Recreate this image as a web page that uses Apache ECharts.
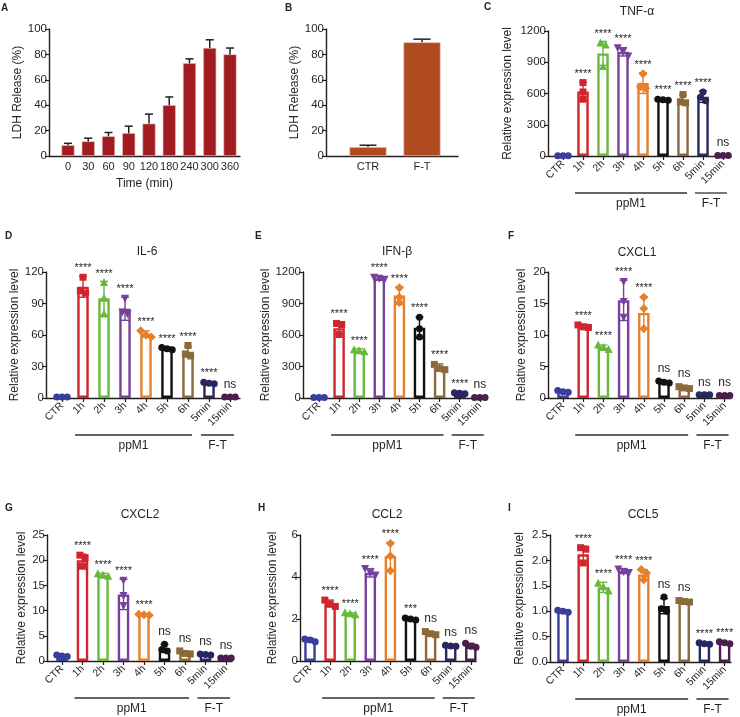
<!DOCTYPE html>
<html><head><meta charset="utf-8">
<script src="https://cdn.jsdelivr.net/npm/echarts@6/dist/echarts.min.js"></script>
<style>html,body{margin:0;padding:0;background:#fff}#c{width:740px;height:717px}</style>
</head><body><div id="c"></div>
<script>
// ---------------- DATA ----------------
// Panel A: LDH release over time
const ldhTimeCats = ['0','30','60','90','120','180','240','300','360'];
const ldhTimeMean = [8.5, 11.5, 15.5, 18, 25.5, 40, 73, 85, 80];
const ldhTimeErr  = [1.5, 2.5, 3, 5.5, 7.5, 6.5, 3.5, 6.5, 5];
// Panel B: LDH release CTR vs F-T
const ldhTreatCats = ['CTR','F-T'];
const ldhTreatMean = [7, 89.5];
const ldhTreatErr  = [1.5, 2.5];

// Gene panels (C–I)
const geneCats = ['CTR','1h','2h','3h','4h','5h','6h','5min','15min'];
const groupNames = ['ppM1','F-T'];
const groupFrom = [1, 7];
const groupTo = [6, 8];
const geneNames = ['TNF-α','IL-6','IFN-β','CXCL1','CXCL2','CCL2','CCL5'];
const geneYMax  = [1200, 120, 1200, 20, 25, 6, 2.5];
const geneYStep = [300, 30, 300, 5, 5, 2, 0.5];

const tnfMean = [3, 620, 985, 1000, 700, 540, 540, 570, 4];
const tnfErr  = [2, 90, 115, 40, 100, 8, 45, 55, 2];
const tnfPts  = [[3,3,3],[705,615,545],[1085,1065,860],[1040,1005,960],[790,665,650],[545,540,535],[590,520,510],[615,565,530],[4,4,4]];
const tnfSig  = ['','****','****','****','****','****','****','****','ns'];

const il6Mean = [1, 106, 95, 85, 61, 47, 44, 14, 1];
const il6Err  = [0.5, 10, 16, 11, 3, 1.5, 5, 1, 0.5];
const il6Pts  = [[1,1,1],[115,102,100],[110,95,80],[95,82,80],[64,60,58],[48,47,46],[50,42,40],[15,14,13.5],[1,1,1]];
const il6Sig  = ['','****','****','****','****','****','****','****','ns'];

const ifnMean = [5, 665, 450, 1140, 975, 670, 290, 45, 5];
const ifnErr  = [2, 60, 20, 20, 85, 100, 35, 5, 2];
const ifnPts  = [[5,5,5],[710,700,605],[460,450,440],[1150,1140,1130],[1050,960,910],[770,660,580],[320,280,270],[50,45,40],[5,5,5]];
const ifnSig  = ['','****','****','****','****','****','****','****','ns'];

const cxcl1Mean = [1.0, 11.4, 8.0, 15.5, 13.5, 2.5, 1.6, 0.5, 0.4];
const cxcl1Err  = [0.15, 0.3, 0.4, 3.2, 2.6, 0.2, 0.2, 0.05, 0.05];
const cxcl1Pts  = [[1.2,1.0,0.9],[11.6,11.3,11.2],[8.4,8.0,7.7],[18.5,15.3,12.8],[16.0,14.2,11.0],[2.7,2.5,2.4],[1.8,1.6,1.5],[0.5,0.5,0.5],[0.4,0.4,0.4]];
const cxcl1Sig  = ['','****','****','****','****','ns','ns','ns','ns'];

const cxcl2Mean = [1.0, 20.0, 17.0, 13.2, 9.2, 2.5, 1.6, 1.3, 0.6];
const cxcl2Err  = [0.15, 1.2, 0.4, 3.0, 0.2, 0.8, 0.4, 0.1, 0.05];
const cxcl2Pts  = [[1.2,1.0,0.9],[21.0,20.5,18.8],[17.3,17.0,16.8],[16.0,13.0,11.0],[9.3,9.2,9.1],[3.3,2.3,2.0],[2.0,1.5,1.4],[1.4,1.3,1.2],[0.6,0.6,0.6]];
const cxcl2Sig  = ['','****','****','****','****','ns','ns','ns','ns'];

const ccl2Mean = [1.0, 2.75, 2.25, 4.2, 5.0, 2.0, 1.3, 0.72, 0.72];
const ccl2Err  = [0.08, 0.15, 0.05, 0.2, 0.65, 0.05, 0.08, 0.04, 0.12];
const ccl2Pts  = [[1.05,1.0,0.92],[2.9,2.7,2.6],[2.3,2.25,2.2],[4.4,4.2,4.1],[5.6,5.0,4.3],[2.05,2.0,1.95],[1.4,1.3,1.25],[0.75,0.72,0.7],[0.85,0.7,0.65]];
const ccl2Sig  = ['','****','****','****','****','***','ns','ns','ns'];

const ccl5Mean = [1.0, 2.12, 1.47, 1.79, 1.72, 1.1, 1.19, 0.36, 0.38];
const ccl5Err  = [0.02, 0.16, 0.1, 0.05, 0.1, 0.15, 0.02, 0.02, 0.02];
const ccl5Pts  = [[1.02,1.0,0.98],[2.25,2.22,1.95],[1.55,1.48,1.4],[1.83,1.78,1.76],[1.82,1.75,1.62],[1.28,1.05,1.0],[1.21,1.19,1.18],[0.38,0.36,0.35],[0.4,0.38,0.36]];
const ccl5Sig  = ['','****','****','****','****','ns','ns','****','****'];

// ---------------- STYLE / LAYOUT ----------------
const FONT = '"Liberation Sans", Arial, Helvetica, sans-serif';
const INK = '#231f20';
const catColors = ['#3a3d9c','#d1242c','#67b93b','#77409b','#e5802d','#111111','#8b6a3a','#28285e','#4b1e4b'];
const catSymbols = ['circle','square','triangle','triangleDown','diamond','circle','square','circle','circle'];

const geneMean = [tnfMean, il6Mean, ifnMean, cxcl1Mean, cxcl2Mean, ccl2Mean, ccl5Mean];
const geneErr  = [tnfErr, il6Err, ifnErr, cxcl1Err, cxcl2Err, ccl2Err, ccl5Err];
const genePts  = [tnfPts, il6Pts, ifnPts, cxcl1Pts, cxcl2Pts, ccl2Pts, ccl5Pts];
const geneSig  = [tnfSig, il6Sig, ifnSig, cxcl1Sig, cxcl2Sig, ccl2Sig, ccl5Sig];

// layout: axis x, axis end x, top, bottom, first category x, category step (px)
const layA = {axisX:49, endX:240, top:29, bottom:156, firstX:68, step:20.25, nameGap:20};
const layB = {axisX:326, endX:458, top:29, bottom:156, firstX:368, step:54, nameGap:21};
const geneLay = [
  {axisX:548, endX:731, top:31,  bottom:156, firstX:563, step:20,   nameGap:34, tx:637, ty:12,  letter:'C', lx:484, ly:8},
  {axisX:46,  endX:240, top:272, bottom:398, firstX:62,  step:21,   nameGap:24, tx:147, ty:252, letter:'D', lx:5,   ly:237},
  {axisX:303, endX:487, top:272, bottom:398, firstX:319, step:20.1, nameGap:30, tx:397, ty:252, letter:'E', lx:255, ly:237},
  {axisX:548, endX:731, top:272, bottom:398, firstX:563, step:20.2, nameGap:20, tx:637, ty:253, letter:'F', lx:508, ly:237},
  {axisX:47,  endX:232, top:535, bottom:661, firstX:62,  step:20.5, nameGap:19, tx:140, ty:515, letter:'G', lx:5,   ly:509},
  {axisX:300, endX:476, top:535, bottom:661, firstX:310, step:20.1, nameGap:21, tx:387, ty:515, letter:'H', lx:258, ly:509},
  {axisX:550, endX:731, top:535, bottom:662, firstX:563, step:20.2, nameGap:24, tx:643, ty:515, letter:'I', lx:508, ly:509}
];

// ---------------- BUILD ----------------
const option = {animation:false, backgroundColor:'#fff', grid:[], xAxis:[], yAxis:[], series:[], graphic:[]};

function symbolEl(kind, cx, cy, s, color){
  const h = s/2;
  if (kind === 'circle') return {type:'circle', shape:{cx, cy, r:h}, style:{fill:color}};
  if (kind === 'square') return {type:'rect', shape:{x:cx-h, y:cy-h, width:s, height:s}, style:{fill:color}};
  if (kind === 'triangle') return {type:'polygon', shape:{points:[[cx,cy-h-1],[cx+h+0.5,cy+h],[cx-h-0.5,cy+h]]}, style:{fill:color}};
  if (kind === 'triangleDown') return {type:'polygon', shape:{points:[[cx,cy+h+1],[cx+h+0.5,cy-h],[cx-h-0.5,cy-h]]}, style:{fill:color}};
  return {type:'polygon', shape:{points:[[cx,cy-h-1],[cx+h+1,cy],[cx,cy+h+1],[cx-h-1,cy]]}, style:{fill:color}};
}

function addPanel(k, lay, cats, gene){
  const idx = cats.map((c,i)=>i);
  option.grid.push({left:lay.axisX, top:lay.top, width:lay.endX-lay.axisX, height:lay.bottom-lay.top});
  option.xAxis.push({
    type:'value', gridIndex:k,
    min: -(lay.firstX-lay.axisX)/lay.step, max: (lay.endX-lay.firstX)/lay.step,
    splitLine:{show:false},
    axisLine:{show:true, onZero:false, lineStyle:{color:INK, width:1.4}},
    axisTick:{show:gene, customValues:idx, length:4, lineStyle:{color:INK, width:1.2}},
    axisLabel:{customValues:idx, formatter:v=>cats[Math.round(v)], rotate:gene?45:0,
      fontFamily:FONT, fontSize:gene?10.5:11, color:INK, margin:gene?6:5}
  });
}

function yAxisBase(k){
  return {type:'value', gridIndex:k, min:0, nameLocation:'middle',
    nameTextStyle:{fontFamily:FONT, fontSize:12, color:INK},
    splitLine:{show:false},
    axisLine:{show:true, onZero:false, lineStyle:{color:INK, width:1.4}},
    axisTick:{show:true, length:4, lineStyle:{color:INK, width:1.2}}};
}

// Panel A & B
[[layA, ldhTimeCats, ldhTimeMean, ldhTimeErr, '#a11c20', 13, 8, 'Time (min)'],
 [layB, ldhTreatCats, ldhTreatMean, ldhTreatErr, '#b04a1f', 37, 17, '']].forEach((p, k)=>{
  const [lay, cats, mean, err, color, bw, capW, xName] = p;
  addPanel(k, lay, cats, false);
  if (xName){ Object.assign(option.xAxis[k], {name:xName, nameLocation:'middle', nameGap:22,
      nameTextStyle:{fontFamily:FONT, fontSize:12, color:INK}}); }
  option.yAxis.push(Object.assign(yAxisBase(k), {max:100, interval:20,
    name:'LDH Release (%)', nameGap:lay.nameGap,
    axisLabel:{fontFamily:FONT, fontSize:11.5, color:INK, margin:2}}));
  option.series.push({type:'bar', xAxisIndex:k, yAxisIndex:k, barWidth:bw, z:2,
    itemStyle:{color:color, borderColor:'#e8b9b0', borderWidth:0.6},
    data: mean.map((m,i)=>[i,m])});
  option.series.push({type:'custom', xAxisIndex:k, yAxisIndex:k, z:3,
    encode:{x:0, y:1},
    data: mean.map((m,i)=>[i,m]),
    renderItem:(params, api)=>{
      const i = params.dataIndex;
      const base = api.coord([i, mean[i]]);
      const top = api.coord([i, mean[i]+err[i]]);
      return {type:'group', children:[
        {type:'line', shape:{x1:base[0], y1:base[1], x2:base[0], y2:top[1]}, style:{stroke:INK, lineWidth:1.5}},
        {type:'line', shape:{x1:base[0]-capW/2, y1:top[1], x2:base[0]+capW/2, y2:top[1]}, style:{stroke:INK, lineWidth:1.5}}
      ]};
    }});
});
option.graphic.push({type:'text', x:1, y:3, style:{text:'A', font:'bold 10px '+FONT, fill:INK}});
option.graphic.push({type:'text', x:285, y:3, style:{text:'B', font:'bold 10px '+FONT, fill:INK}});

// Gene panels
geneLay.forEach((lay, g)=>{
  const k = g + 2;
  const mean = geneMean[g], err = geneErr[g], pts = genePts[g], sig = geneSig[g];
  addPanel(k, lay, geneCats, true);
  const step = geneYStep[g];
  option.yAxis.push(Object.assign(yAxisBase(k), {max:geneYMax[g], interval:step,
    name:'Relative expression level', nameGap:lay.nameGap,
    axisLabel:{fontFamily:FONT, fontSize:11.5, color:INK, margin:2,
      formatter: v => step < 1 ? v.toFixed(1) : String(v)}}));
  // hollow bars
  option.series.push({type:'bar', xAxisIndex:k, yAxisIndex:k, barWidth:11.5, z:2,
    data: mean.map((m,i)=>({value:[i,m], itemStyle:{color:'#ffffff', borderColor:catColors[i], borderWidth:2.4}}))});
  // error bars, points, significance
  option.series.push({type:'custom', xAxisIndex:k, yAxisIndex:k, z:4,
    encode:{x:0, y:1},
    data: mean.map((m,i)=>[i,m]),
    renderItem:(params, api)=>{
      const i = params.dataIndex;
      const color = catColors[i];
      const cx = api.coord([i, mean[i]])[0];
      const yT = api.coord([i, mean[i]+err[i]])[1];
      const yB = api.coord([i, Math.max(0, mean[i]-err[i])])[1];
      const ch = [];
      const cap = 4;
      ch.push({type:'line', shape:{x1:cx, y1:yT, x2:cx, y2:yB}, style:{stroke:color, lineWidth:1.4}});
      ch.push({type:'line', shape:{x1:cx-cap, y1:yT, x2:cx+cap, y2:yT}, style:{stroke:color, lineWidth:1.4}});
      ch.push({type:'line', shape:{x1:cx-cap, y1:yB, x2:cx+cap, y2:yB}, style:{stroke:color, lineWidth:1.4}});
      // points with simple swarm spreading
      const s = 7;
      const ys = pts[i].map(v=>api.coord([i, v])[1]);
      const order = ys.map((y,j)=>j).sort((a,b)=>ys[a]-ys[b]);
      const offs = new Array(ys.length).fill(0);
      let cluster = [order[0]];
      const flush = ()=>{ const m = cluster.length; cluster.forEach((j,q)=>{ offs[j] = (q-(m-1)/2)*s*0.75; }); };
      for (let q=1; q<order.length; q++){
        if (ys[order[q]] - ys[cluster[cluster.length-1]] < s*0.7) cluster.push(order[q]);
        else { flush(); cluster = [order[q]]; }
      }
      flush();
      ys.forEach((y,j)=>ch.push(symbolEl(catSymbols[i], cx+offs[j], y, s, color)));
      if (sig[i]){
        const topY = Math.min(yT, Math.min(...ys) - s/2);
        const stars = sig[i] !== 'ns';
        ch.push({type:'text', x:cx, y:topY - (stars ? 0 : 3),
          style:{text:sig[i], textAlign:'center', textVerticalAlign:'bottom',
            font:(stars?'11px ':'12px ')+FONT, fill:INK}});
      }
      return {type:'group', children:ch};
    }});
  // group brackets under the axis
  option.series.push({type:'custom', xAxisIndex:k, yAxisIndex:k, z:4,
    encode:{x:0, y:1},
    data: groupNames.map((nm,q)=>[groupFrom[q], 0]),
    renderItem:(params, api)=>{
      const q = params.dataIndex;
      const p1 = api.coord([groupFrom[q], 0]);
      const p2 = api.coord([groupTo[q], 0]);
      const y = p1[1] + 37;
      const x1 = p1[0] - 8, x2 = p2[0] + 4;
      return {type:'group', children:[
        {type:'line', shape:{x1, y1:y, x2, y2:y}, style:{stroke:'#333', lineWidth:1.3}},
        {type:'text', x:(x1+x2)/2, y:y+5, style:{text:groupNames[q], textAlign:'center', textVerticalAlign:'top', font:'12px '+FONT, fill:INK}}
      ]};
    }});
  option.graphic.push({type:'text', x:lay.tx, y:lay.ty, style:{text:geneNames[g], textAlign:'center', textVerticalAlign:'middle', font:'12px '+FONT, fill:INK}});
  option.graphic.push({type:'text', x:lay.lx, y:lay.ly-6, style:{text:lay.letter, font:'bold 10px '+FONT, fill:INK}});
});

const chart = echarts.init(document.getElementById('c'));
chart.setOption(option);
</script>
</body></html>
